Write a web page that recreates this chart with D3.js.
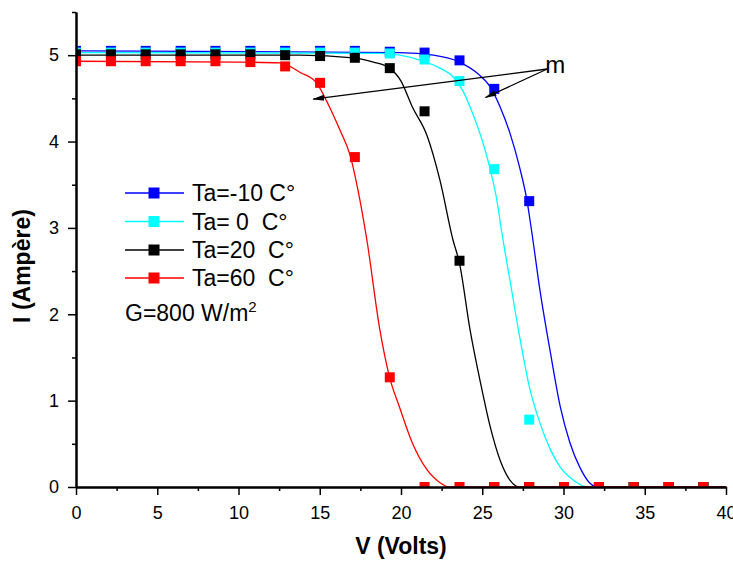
<!DOCTYPE html>
<html>
<head>
<meta charset="utf-8">
<script src="https://cdn.jsdelivr.net/npm/d3@7"></script>
<style>
  body { margin: 0; background: #fff; }
  svg { font-family: "Liberation Sans", Arial, sans-serif; }
  .legend text { white-space: pre; }
</style>
</head>
<body>
<div id="vis"><svg></svg></div>
<script>
// measured voltages of the square markers (V)
const voltage = [0, 2.15, 4.29, 6.44, 8.58, 10.73, 12.87, 15.02, 17.16, 19.31, 21.45, 23.6, 25.74, 27.89, 30.03, 32.18, 34.32, 36.47, 38.61];

// measured currents (A) for each ambient temperature
const iMinus10 = [5.05, 5.05, 5.05, 5.05, 5.05, 5.05, 5.05, 5.05, 5.05, 5.04, 5.03, 4.94, 4.61, 3.31, 0, 0, 0, 0, 0];
const iZero    = [5.03, 5.03, 5.03, 5.03, 5.03, 5.03, 5.03, 5.03, 5.03, 5.02, 4.95, 4.70, 3.68, 0.78, 0, 0, 0, 0, 0];
const iTwenty  = [5.01, 5.01, 5.01, 5.01, 5.01, 5.01, 5.0, 4.99, 4.97, 4.85, 4.35, 2.62, 0, 0, 0, 0, 0, 0, 0];
const iSixty   = [4.93, 4.93, 4.93, 4.93, 4.93, 4.92, 4.87, 4.68, 3.82, 1.27, 0, 0, 0, 0, 0, 0, 0, 0, 0];

// fitted curves, points [V, I]
const fitMinus10 = [[0, 5.05], [19.9, 5.03], [22.0, 5.0], [23.6, 4.92], [24.7, 4.79], [25.5, 4.63], [26.1, 4.40], [26.7, 4.10], [27.3, 3.70], [27.75, 3.32], [28.05, 2.95], [28.55, 2.28], [29.2, 1.55], [29.8, 0.93], [30.4, 0.51], [31.0, 0.23], [31.6, 0.05], [32.1, 0], [40, 0]];
const fitZero = [[0, 5.03], [18.7, 5.02], [21.2, 4.94], [22.4, 4.85], [23.2, 4.75], [23.8, 4.59], [24.4, 4.33], [25.05, 3.98], [25.5, 3.67], [25.9, 3.32], [26.2, 2.95], [26.7, 2.40], [27.3, 1.74], [27.9, 1.16], [28.55, 0.74], [29.2, 0.43], [29.8, 0.23], [30.6, 0.08], [31.45, 0], [40, 0]];
const fitTwenty = [[0, 5.0], [13.8, 5.0], [17.05, 4.97], [18.3, 4.92], [19.3, 4.85], [20.0, 4.70], [20.7, 4.40], [21.6, 4.07], [22.4, 3.55], [23.2, 2.86], [23.6, 2.59], [24.25, 1.82], [24.9, 1.20], [25.5, 0.69], [26.1, 0.31], [26.7, 0.08], [27.3, 0], [40, 0]];
const fitSixty = [[0, 4.93], [10.1, 4.92], [12.55, 4.91], [13.8, 4.80], [14.8, 4.68], [15.6, 4.40], [16.25, 4.13], [16.9, 3.82], [17.35, 3.44], [17.9, 2.86], [18.7, 1.82], [19.3, 1.27], [19.9, 0.93], [20.7, 0.51], [21.6, 0.20], [22.4, 0.05], [23.0, 0], [40, 0]];

const labels = ["Ta=-10 C°", "Ta= 0  C°", "Ta=20  C°", "Ta=60  C°"];
const colors = ["#0000ff", "#00ffff", "#000000", "#ff0000"];

const xMajor = [0, 5, 10, 15, 20, 25, 30, 35, 40];
const xMinor = [2.5, 7.5, 12.5, 17.5, 22.5, 27.5, 32.5, 37.5];
const yMajor = [0, 1, 2, 3, 4, 5];
const yMinor = [0.5, 1.5, 2.5, 3.5, 4.5, 5.5];

const series = [
  {name: labels[0], color: colors[0], pts: iMinus10, fit: fitMinus10},
  {name: labels[1], color: colors[1], pts: iZero, fit: fitZero},
  {name: labels[2], color: colors[2], pts: iTwenty, fit: fitTwenty},
  {name: labels[3], color: colors[3], pts: iSixty, fit: fitSixty},
];

const W = 733, H = 561;
const plot = {left: 76, right: 726, top: 12, bottom: 487};

const svg = d3.select("#vis").select("svg")
  .attr("width", W)
  .attr("height", H);

const x = d3.scaleLinear().domain([0, 40]).range([plot.left, plot.right]);
const y = d3.scaleLinear().domain([0, 5.5]).range([plot.bottom, plot.top]);

svg.append("defs").append("clipPath").attr("id", "clip")
  .append("rect")
  .attr("x", plot.left).attr("y", plot.top)
  .attr("width", plot.right - plot.left).attr("height", plot.bottom - plot.top);

svg.select("defs").append("marker")
  .attr("id", "arrow")
  .attr("markerUnits", "userSpaceOnUse")
  .attr("viewBox", "0 -4 12 8")
  .attr("refX", 11).attr("refY", 0)
  .attr("markerWidth", 12).attr("markerHeight", 8)
  .attr("orient", "auto")
  .append("path").attr("d", "M0,-3L12,0L0,3Z").attr("fill", "#000");

const g = svg.append("g").attr("clip-path", "url(#clip)");

const line = d3.line()
  .x(d => x(d[0]))
  .y(d => y(d[1]))
  .curve(d3.curveMonotoneX);

const ms = 10;
series.forEach(s => {
  g.append("path")
    .datum(s.fit)
    .attr("fill", "none")
    .attr("stroke", s.color)
    .attr("stroke-width", 1.3)
    .attr("d", line);
  g.append("g").selectAll("rect")
    .data(s.pts.map((v, i) => [voltage[i], v]))
    .join("rect")
    .attr("x", d => x(d[0]) - ms / 2)
    .attr("y", d => y(d[1]) - ms / 2)
    .attr("width", ms).attr("height", ms)
    .attr("fill", s.color);
});

// axes
const xAxisG = svg.append("g").attr("transform", `translate(0,${plot.bottom})`);
xAxisG.append("g")
  .call(d3.axisBottom(x).tickValues(xMinor).tickSize(4).tickSizeOuter(0).tickFormat(""));
xAxisG.append("g")
  .call(d3.axisBottom(x).tickValues(xMajor).tickSize(8).tickSizeOuter(0).tickPadding(11).tickFormat(d3.format("d")));

const yAxisG = svg.append("g").attr("transform", `translate(${plot.left},0)`);
yAxisG.append("g")
  .call(d3.axisLeft(y).tickValues(yMinor).tickSize(4).tickSizeOuter(0).tickFormat(""));
yAxisG.append("g")
  .call(d3.axisLeft(y).tickValues(yMajor).tickSize(8).tickSizeOuter(0).tickPadding(9).tickFormat(d3.format("d")));

svg.selectAll(".domain").attr("stroke", "#000").attr("stroke-width", 2);
svg.selectAll(".tick line").attr("stroke", "#000").attr("stroke-width", 1.5);
svg.selectAll(".tick text")
  .attr("fill", "#000")
  .style("font-size", "18px")
  .style("font-family", "'Liberation Sans', Arial, sans-serif");

// axis titles
svg.append("text")
  .attr("x", (plot.left + plot.right) / 2)
  .attr("y", 554)
  .attr("text-anchor", "middle")
  .style("font-size", "23px")
  .style("font-weight", "bold")
  .text("V (Volts)");

svg.append("text")
  .attr("transform", "translate(30,266) rotate(-90)")
  .attr("text-anchor", "middle")
  .style("font-size", "23px")
  .style("font-weight", "bold")
  .text("I (Ampère)");

// legend
const legend = svg.append("g").attr("class", "legend");
const rowY = [193, 221.5, 250, 278];
series.forEach((s, i) => {
  const r = legend.append("g").attr("transform", `translate(0,${rowY[i]})`);
  r.append("line")
    .attr("x1", 125).attr("x2", 184)
    .attr("stroke", s.color).attr("stroke-width", 1.3);
  r.append("rect")
    .attr("x", 154 - 5.5).attr("y", -5.5)
    .attr("width", 11).attr("height", 11)
    .attr("fill", s.color);
  r.append("text")
    .attr("x", 192).attr("y", 8)
    .style("font-size", "23px")
    .text(s.name);
});

const gText = legend.append("text")
  .attr("x", 125).attr("y", 321)
  .style("font-size", "23px");
gText.append("tspan").text("G=800 W/m");
gText.append("tspan").attr("dy", -9).style("font-size", "15px").text("2");

// annotation "m" with two arrows
const mFrom = [29.0, 4.84];
const mTargets = [[14.6, 4.49], [25.2, 4.51]];
mTargets.forEach(t => {
  svg.append("line")
    .attr("x1", x(mFrom[0])).attr("y1", y(mFrom[1]))
    .attr("x2", x(t[0])).attr("y2", y(t[1]))
    .attr("stroke", "#000").attr("stroke-width", 1.3)
    .attr("marker-end", "url(#arrow)");
});
svg.append("text")
  .attr("x", x(29.0) - 2)
  .attr("y", y(4.79))
  .style("font-size", "24px")
  .text("m");
</script>
</body>
</html>
